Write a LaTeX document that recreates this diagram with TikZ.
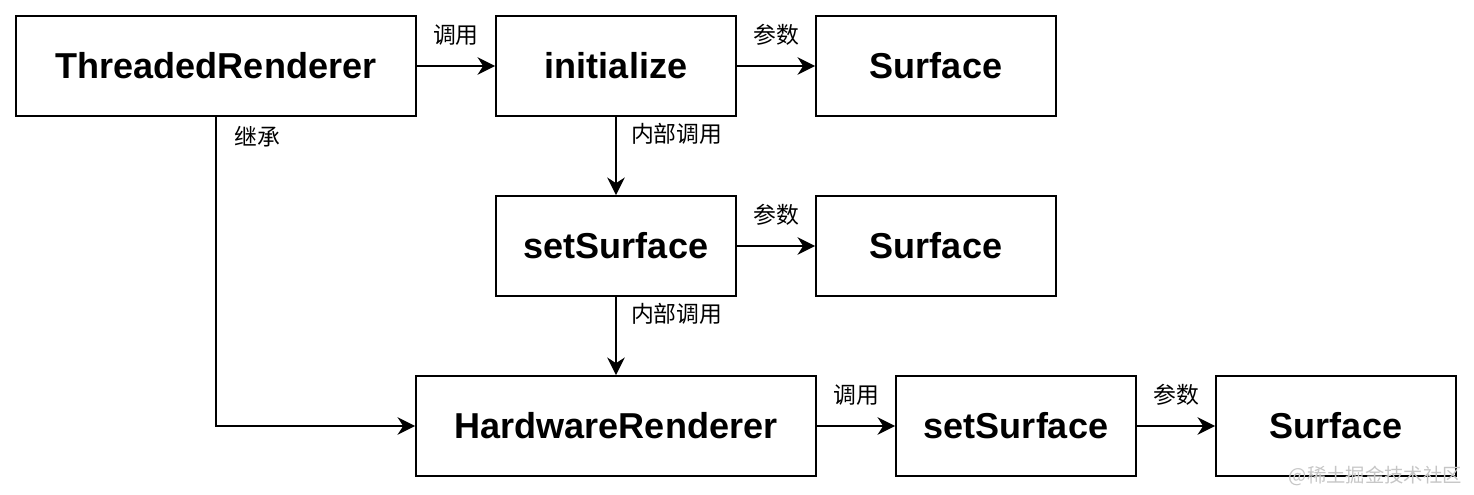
\documentclass[tikz,border=0pt]{standalone}
\usepackage{fontspec}
\setsansfont{Liberation Sans}
\newfontfamily\cjk{Noto Sans CJK SC}
\usetikzlibrary{arrows.meta}

\begin{document}
\begin{tikzpicture}[x=0.02cm, y=-0.02cm,
    box/.style={draw, line width=1.1pt, minimum width=4.8cm, minimum height=2cm,
        inner sep=0pt, font=\sffamily\bfseries\fontsize{20.5}{24}\selectfont},
    widebox/.style={box, minimum width=8cm},
    flow/.style={line width=1.1pt, -{Stealth[length=10pt, width=10pt]}},
    lbl/.style={font=\cjk\fontsize{13}{15}\selectfont, inner sep=0pt}]
    \useasboundingbox (0,0) rectangle (1474,494);

    % Draw the boxes
    \node[widebox] (threaded) at (216,66) {ThreadedRenderer};
    \node[box] (init) at (616,66) {initialize};
    \node[box] (surfA) at (936,66) {Surface};
    \node[box] (setA) at (616,246) {setSurface};
    \node[box] (surfB) at (936,246) {Surface};
    \node[widebox] (hardware) at (616,426) {HardwareRenderer};
    \node[box] (setB) at (1016,426) {setSurface};
    \node[box] (surfC) at (1336,426) {Surface};

    % Draw the calls
    \draw[flow] (threaded) -- node[lbl, above=11pt] {调用} (init);
    \draw[flow] (init) -- node[lbl, above=11pt] {参数} (surfA);
    \draw[flow] (init) -- node[lbl, pos=0.22, right=8pt] {内部调用} (setA);
    \draw[flow] (setA) -- node[lbl, above=11pt] {参数} (surfB);
    \draw[flow] (setA) -- node[lbl, pos=0.22, right=8pt] {内部调用} (hardware);
    \draw[flow] (hardware) -- node[lbl, above=11pt] {调用} (setB);
    \draw[flow] (setB) -- node[lbl, above=11pt] {参数} (surfC);

    % Inheritance
    \draw[flow] (threaded.south) |- node[lbl, pos=0.032, right=10pt] {继承} (hardware.west);

    % Watermark
    \node[font=\cjk\fontsize{11}{13}\selectfont, text=gray!45, anchor=east] (mark) at (1468,476) {@稀土掘金技术社区};
\end{tikzpicture}
\end{document}
